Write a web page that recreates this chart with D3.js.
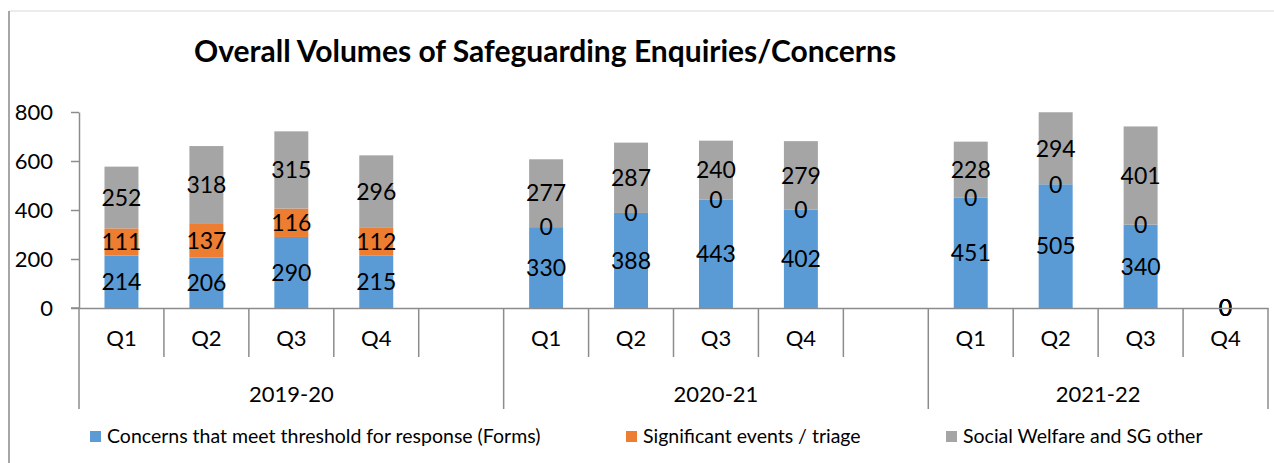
<!DOCTYPE html>
<html>
<head>
<meta charset="utf-8">
<script src="https://cdn.jsdelivr.net/npm/d3@7"></script>
<style>
  html, body { margin: 0; padding: 0; background: #fff; }
  svg { display: block; font-family: Lato, 'Open Sans', sans-serif; }
</style>
</head>
<body>
<svg id="chart"></svg>
<script>
const years = ['2019-20', '2020-21', '2021-22']
const quarters = [
  ['Q1', 'Q2', 'Q3', 'Q4', ''],
  ['Q1', 'Q2', 'Q3', 'Q4', ''],
  ['Q1', 'Q2', 'Q3', 'Q4']
]
const seriesNames = [
  'Concerns that meet threshold for response (Forms)',
  'Significant events / triage',
  'Social Welfare and SG other'
]
// null = empty spacer slot
const forms = [214, 206, 290, 215, null, 330, 388, 443, 402, null, 451, 505, 340, 0]
const triage = [111, 137, 116, 112, null, 0, 0, 0, 0, null, 0, 0, 0, 0]
const other = [252, 318, 315, 296, null, 277, 287, 240, 279, null, 228, 294, 401, 0]
const yTicks = [0, 200, 400, 600, 800]

const colors = ['#5b9bd5', '#ed7d31', '#a5a5a5']
const axisColor = '#8c8c8c'

const width = 1274
const height = 463
const svg = d3.select('#chart').attr('width', width).attr('height', height)

// outer frame (cropped chart area)
svg.append('line').attr('x1', 9).attr('x2', width).attr('y1', 11).attr('y2', 11)
  .attr('stroke', '#d9d9d9').attr('stroke-width', 1)
svg.append('line').attr('x1', 9).attr('x2', 9).attr('y1', 11).attr('y2', height)
  .attr('stroke', '#a6a6a6').attr('stroke-width', 2)

svg.append('text')
  .attr('x', 545)
  .attr('y', 62)
  .attr('text-anchor', 'middle')
  .attr('font-weight', 'bold')
  .attr('font-size', 30)
  .text('Overall Volumes of Safeguarding Enquiries/Concerns')

// flat list of slots
const slots = []
years.forEach((yr, gi) => quarters[gi].forEach((q, qi) => slots.push({ year: yr, q, gi, qi })))
slots.forEach((s, i) => { s.i = i })

const plotLeft = 79
const plotRight = 1268
const x = d3.scaleBand().domain(slots.map(d => d.i)).range([plotLeft, plotRight]).padding(0)
const y = d3.scaleLinear().domain([0, 800]).range([308, 112])
const barW = x.bandwidth() / 2.5

// y axis
const yAxis = svg.append('g')
  .attr('transform', `translate(${plotLeft},0)`)
  .call(d3.axisLeft(y).tickValues(yTicks).tickSize(8).tickPadding(18).tickSizeOuter(0))
yAxis.select('.domain').attr('stroke', axisColor).attr('stroke-width', 1.5)
yAxis.selectAll('.tick line').attr('stroke', axisColor).attr('stroke-width', 1.5)
yAxis.selectAll('.tick text').attr('font-size', 22).attr('font-family', 'Lato, sans-serif').attr('fill', '#000')

// stacked bars
const rows = slots.map(s => ({ i: s.i, vals: [forms[s.i], triage[s.i], other[s.i]] }))
const segs = []
rows.forEach(r => {
  if (r.vals[0] === null) return
  let acc = 0
  r.vals.forEach((v, k) => {
    segs.push({ i: r.i, k, v, y0: acc, y1: acc + v })
    acc += v
  })
})

svg.append('g').selectAll('rect')
  .data(segs)
  .enter()
  .append('rect')
  .attr('x', d => x(d.i) + (x.bandwidth() - barW) / 2)
  .attr('y', d => y(d.y1))
  .attr('width', barW)
  .attr('height', d => y(d.y0) - y(d.y1))
  .attr('fill', d => colors[d.k])

svg.append('g').selectAll('text')
  .data(segs)
  .enter()
  .append('text')
  .attr('x', d => x(d.i) + x.bandwidth() / 2)
  .attr('y', d => y((d.y0 + d.y1) / 2))
  .attr('dy', '0.36em')
  .attr('text-anchor', 'middle')
  .attr('font-size', 23)
  .text(d => d.v)

// category axis
const xAxis = svg.append('g')
  .attr('transform', `translate(0,${y(0)})`)
  .call(d3.axisBottom(x).tickSize(0).tickPadding(22).tickFormat(i => slots[i].q))
xAxis.select('.domain').attr('stroke', axisColor).attr('stroke-width', 1.5)
xAxis.selectAll('.tick text').attr('font-size', 22).attr('font-family', 'Lato, sans-serif').attr('fill', '#000')
svg.append('line').attr('x1', plotLeft - 8).attr('x2', plotLeft).attr('y1', y(0)).attr('y2', y(0))
  .attr('stroke', axisColor).attr('stroke-width', 1.5)

// dividers between quarters and between years
const dividers = slots.map(s => ({ x: x(s.i), group: s.qi === 0 }))
dividers.push({ x: plotRight, group: true })
svg.append('g').selectAll('line')
  .data(dividers)
  .enter()
  .append('line')
  .attr('x1', d => d.x)
  .attr('x2', d => d.x)
  .attr('y1', y(0))
  .attr('y2', d => d.group ? 409 : 357)
  .attr('stroke', axisColor)
  .attr('stroke-width', 1.5)

// year labels
svg.append('g').selectAll('text')
  .data(years)
  .enter()
  .append('text')
  .attr('x', (d, gi) => {
    const idx = slots.filter(s => s.gi === gi).map(s => s.i)
    return (x(idx[0]) + x(idx[idx.length - 1]) + x.bandwidth()) / 2
  })
  .attr('y', 402)
  .attr('text-anchor', 'middle')
  .attr('font-size', 22)
  .text(d => d)

// legend
const legendX = [90, 626, 946]
const legend = svg.append('g').selectAll('g')
  .data(seriesNames)
  .enter()
  .append('g')
  .attr('transform', (d, k) => `translate(${legendX[k]},431)`)
legend.append('rect').attr('width', 11).attr('height', 11).attr('fill', (d, k) => colors[k])
legend.append('text')
  .attr('x', 17)
  .attr('y', 12)
  .attr('font-size', 19.5)
  .text(d => d)
</script>
</body>
</html>
